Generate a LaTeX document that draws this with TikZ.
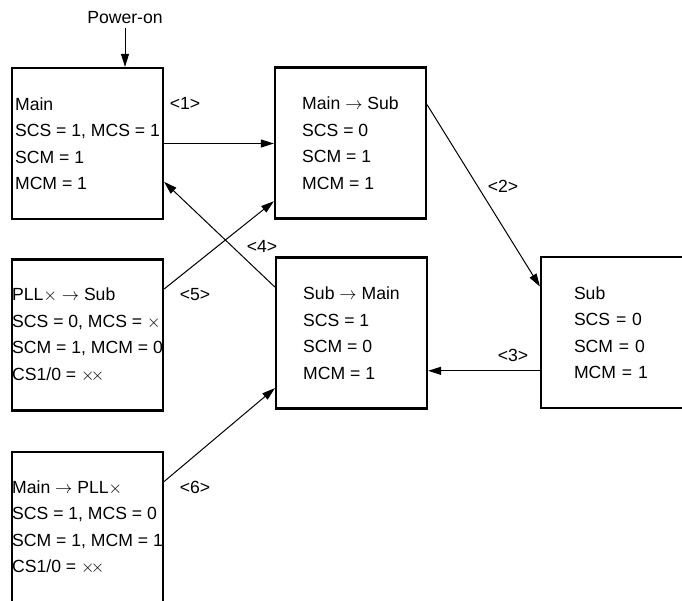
\documentclass[tikz,border=0pt]{standalone}
\usepackage{fontspec}
\setmainfont{Liberation Sans}
\usetikzlibrary{calc,arrows.meta}

\begin{document}
\begin{tikzpicture}[x=1pt,y=-1pt,
  every node/.style={font=\fontsize{17.6}{26.5}\selectfont},
  statebox/.style={draw,line width=2.2pt,minimum width=151pt,minimum height=151pt,align=left,inner sep=0pt},
  conn/.style={line width=1pt,-{Triangle[length=13pt,width=8pt]}}]
  \useasboundingbox (0,0) rectangle (682,600);
  \clip (0,0) rectangle (682,600);
  % states
  \node[statebox] (main) at (87.5,143.5) {Main\\SCS = 1, MCS = 1\\SCM = 1\\MCM = 1};
  \node[statebox] (mainsub) at (350.5,143) {Main $\rightarrow$ Sub\\SCS = 0\\SCM = 1\\MCM = 1};
  \node[statebox,text width=85pt] (sub) at (616.5,332.5) {Sub\\SCS = 0\\SCM = 0\\MCM = 1};
  \node[statebox] (submain) at (351.5,333) {Sub $\rightarrow$ Main\\SCS = 1\\SCM = 0\\MCM = 1};
  \node[statebox] (pllsub) at (87.5,335) {PLL$\times$ $\rightarrow$ Sub\\SCS = 0, MCS = $\times$\\SCM = 1, MCM = 0\\CS1/0 = ${\times}\mkern-4mu{\times}$};
  \node[statebox] (mainpll) at (87.5,527.5) {Main $\rightarrow$ PLL$\times$\\SCS = 1, MCS = 0\\SCM = 1, MCM = 1\\CS1/0 = ${\times}\mkern-4mu{\times}$};
  % power-on entry
  \node (power) at (125,18) {Power-on};
  \draw[conn] (power.south) -- (power.south |- main.north);
  % transitions
  \draw[conn] (main.east) -- (main.east -| mainsub.west);
  \draw[conn] ($(mainsub.north east)!.25!(mainsub.south east)$) -- ($(sub.north west)!.2!(sub.south west)$);
  \draw[conn] ($(sub.north west)!.75!(sub.south west)$) coordinate (s3) -- (s3 -| submain.east);
  \draw[conn] ($(submain.north west)!.2!(submain.south west)$) -- ($(main.north east)!.75!(main.south east)$);
  \draw[conn] ($(pllsub.north east)!.2!(pllsub.south east)$) -- ($(mainsub.north west)!.88!(mainsub.south west)$);
  \draw[conn] ($(mainpll.north east)!.2!(mainpll.south east)$) -- ($(submain.north west)!.86!(submain.south west)$);
  \foreach \n/\x/\y in {1/185/103, 2/503/186, 3/513/355, 4/262/246, 5/195/295, 6/195/487}{
    \node (lab\n) at (\x,\y) {<\n>};
  }
\end{tikzpicture}
\end{document}
